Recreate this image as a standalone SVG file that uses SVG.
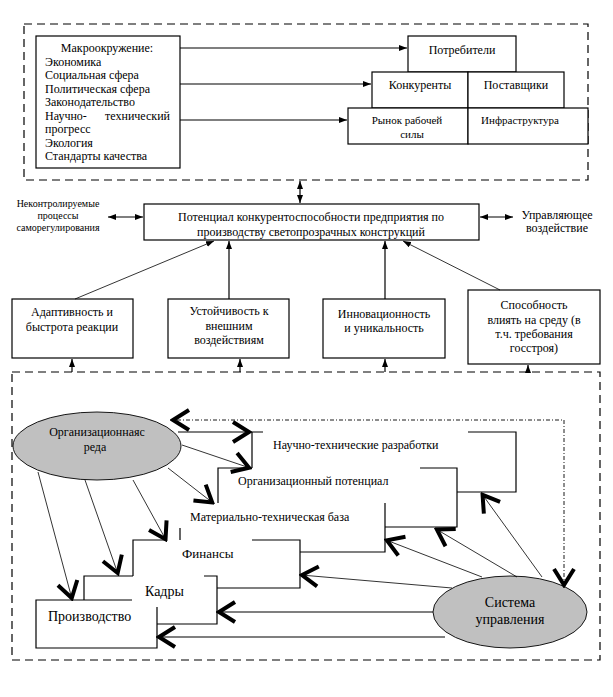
<svg xmlns="http://www.w3.org/2000/svg" width="613" height="697" viewBox="0 0 613 697" font-family="Liberation Serif, serif">
<defs>
<style>
.t{font-family:"Liberation Serif","Times New Roman",serif;font-size:12px;fill:#000}
.s{font-size:11px}
.xs{font-size:10px}
.m{text-anchor:middle}
.e{text-anchor:end}
.b{fill:#fff;stroke:#000;stroke-width:1.2}
.ln{fill:none;stroke:#000;stroke-width:1.2}
.th{fill:none;stroke:#000;stroke-width:0.8}
.dash{fill:none;stroke:#000;stroke-width:1.2;stroke-dasharray:8,5}
.dd{fill:none;stroke:#000;stroke-width:0.9;stroke-dasharray:4,2,1,2}
.el{fill:#c0c0c0;stroke:#000;stroke-width:0.9}
</style>
<marker id="ah" viewBox="0 0 8 6" refX="8" refY="3" markerWidth="8" markerHeight="6" markerUnits="userSpaceOnUse" orient="auto-start-reverse"><path d="M0,0 L8,3 L0,6 z" fill="#000"/></marker>
<marker id="ch" viewBox="-22 -13 24 26" refX="0" refY="0" markerWidth="24" markerHeight="26" markerUnits="userSpaceOnUse" orient="auto-start-reverse"><path d="M-17,-10 L-1,0 L-17,10" fill="none" stroke="#000" stroke-width="4"/></marker>
</defs>
<rect width="613" height="697" fill="#fff"/>

<g id="frame_top"><rect class="dash" x="24" y="24" width="564" height="156"/></g>
<g id="frame_bottom"><rect class="dash" x="12" y="372" width="588" height="288"/></g>

<g id="macro">
<rect class="b" x="36" y="36" width="144" height="132"/>
<text class="t m" x="107" y="52">Макроокружение:</text>
<text class="t" x="45" y="65.5">Экономика</text>
<text class="t" x="45" y="79">Социальная сфера</text>
<text class="t" x="45" y="92.5">Политическая сфера</text>
<text class="t" x="45" y="106">Законодательство</text>
<text class="t" x="45" y="119.5">Научно-</text>
<text class="t e" x="170" y="119.5">технический</text>
<text class="t" x="45" y="133">прогресс</text>
<text class="t" x="45" y="146.5">Экология</text>
<text class="t" x="45" y="160">Стандарты качества</text>
</g>

<g id="consumers"><rect class="b" x="408" y="36" width="108" height="36"/><text class="t m" x="462" y="54">Потребители</text></g>
<g id="competitors"><rect class="b" x="372" y="72" width="96" height="36"/><text class="t m" x="420" y="89">Конкуренты</text></g>
<g id="suppliers"><rect class="b" x="468" y="72" width="96" height="36"/><text class="t m" x="516" y="89">Поставщики</text></g>
<g id="labor"><rect class="b" x="348" y="108" width="120" height="36"/><text class="t s m" x="407" y="124">Рынок рабочей</text><text class="t s m" x="412" y="138">силы</text></g>
<g id="infra"><rect class="b" x="468" y="108" width="120" height="36"/><text class="t s m" x="520" y="124">Инфраструктура</text></g>

<g id="potential"><rect class="b" x="144" y="204" width="335" height="36"/>
<text class="t m" x="311" y="221">Потенциал конкурентоспособности предприятия по</text>
<text class="t m" x="311" y="236">производству светопрозрачных конструкций</text></g>

<g id="uncontrolled"><text class="t xs m" x="58" y="207">Неконтролируемые</text><text class="t xs m" x="58" y="219">процессы</text><text class="t xs m" x="58" y="231">саморегулирования</text></g>
<g id="control"><text class="t m" x="557" y="219">Управляющее</text><text class="t m" x="557" y="232">воздействие</text></g>

<g id="adapt"><rect class="b" x="12" y="299" width="121" height="59"/><text class="t m" x="72" y="316">Адаптивность и</text><text class="t m" x="72" y="331">быстрота реакции</text></g>
<g id="stab"><rect class="b" x="168" y="299" width="121" height="59"/><text class="t m" x="229" y="315">Устойчивость к</text><text class="t m" x="229" y="330">внешним</text><text class="t m" x="229" y="344">воздействиям</text></g>
<g id="innov"><rect class="b" x="323" y="299" width="122" height="59"/><text class="t m" x="384" y="318">Инновационность</text><text class="t m" x="384" y="332">и уникальность</text></g>
<g id="influence"><rect class="b" x="468" y="290" width="132" height="74"/><text class="t m" x="534" y="309">Способность</text><text class="t m" x="534" y="324">влиять на среду (в</text><text class="t m" x="534" y="338">т.ч. требования</text><text class="t m" x="534" y="352">госстроя)</text></g>

<g id="ntr"><path class="ln" d="M252,468 V432 H263 M468,432 H516 V492 H457"/><text class="t" x="273" y="449">Научно-технические разработки</text></g>
<g id="orgpot"><path class="ln" d="M218,503 V468 H252 M420,468 H457 V527 H385"/><text class="t" x="238" y="485">Организационный потенциал</text></g>
<g id="mtb"><path class="ln" d="M180,528 V540 M385,503 V552 H300"/><text class="t" x="190" y="521">Материально-техническая база</text></g>
<g id="fin"><path class="ln" d="M133,576 V540 H167 M252,540 H300 V588 H217"/><text class="t" style="font-size:13px" x="182" y="558">Финансы</text></g>
<g id="kadry"><path class="ln" d="M84,600 V576 H133 M204,576 H217 V624 H157"/><text class="t" style="font-size:14px" x="145" y="596">Кадры</text></g>
<g id="prod"><path class="ln" d="M132,600 H36 V648 H157 V607"/><text class="t" style="font-size:14px" x="48" y="621">Производство</text></g>

<g id="orgenv"><ellipse class="el" cx="97" cy="446" rx="84" ry="34"/><text class="t m" x="97" y="436">Организационнаяс</text><text class="t m" x="95" y="451">реда</text></g>
<g id="mgmt"><ellipse class="el" cx="510" cy="612" rx="77" ry="36"/><text class="t m" style="font-size:14px" x="510" y="607">Система</text><text class="t m" style="font-size:14px" x="510" y="624">управления</text></g>

<g id="connectors">
<line class="ln" x1="180" y1="48" x2="407" y2="48" marker-end="url(#ah)"/>
<line class="ln" x1="180" y1="84" x2="371" y2="84" marker-end="url(#ah)"/>
<line class="ln" x1="180" y1="120" x2="347" y2="120" marker-end="url(#ah)"/>
<line class="ln" x1="300" y1="181" x2="300" y2="203" marker-start="url(#ah)" marker-end="url(#ah)"/>
<line class="ln" x1="108" y1="217" x2="143" y2="217" marker-start="url(#ah)" marker-end="url(#ah)"/>
<line class="ln" x1="480" y1="217" x2="513" y2="217" marker-start="url(#ah)" marker-end="url(#ah)"/>
<line class="th" x1="75" y1="299" x2="214" y2="241" marker-end="url(#ah)"/>
<line class="ln" x1="229" y1="299" x2="229" y2="241" marker-end="url(#ah)"/>
<line class="ln" x1="385" y1="299" x2="385" y2="241" marker-end="url(#ah)"/>
<line class="th" x1="500" y1="290" x2="403" y2="241" marker-end="url(#ah)"/>
<line class="ln" x1="72" y1="372" x2="72" y2="359" marker-end="url(#ah)"/>
<line class="ln" x1="240" y1="372" x2="240" y2="359" marker-end="url(#ah)"/>
<line class="ln" x1="385" y1="372" x2="385" y2="359" marker-end="url(#ah)"/>
<line class="ln" x1="528" y1="372" x2="528" y2="365" marker-end="url(#ah)"/>

<line class="ln" x1="178" y1="432" x2="250" y2="432" marker-end="url(#ch)"/>
<line class="th" x1="182" y1="445" x2="250" y2="468" marker-end="url(#ch)"/>
<line class="th" x1="168" y1="468" x2="213" y2="503" marker-end="url(#ch)"/>
<line class="th" x1="133" y1="480" x2="166" y2="540" marker-end="url(#ch)"/>
<line class="th" x1="85" y1="480" x2="118" y2="574" marker-end="url(#ch)"/>
<line class="th" x1="38" y1="472" x2="72" y2="599" marker-end="url(#ch)"/>

<line class="ln" x1="445" y1="637" x2="158" y2="637" marker-end="url(#ch)"/>
<line class="ln" x1="433" y1="612" x2="218" y2="612" marker-end="url(#ch)"/>
<line class="th" x1="452" y1="588" x2="301" y2="575" marker-end="url(#ch)"/>
<line class="th" x1="482" y1="577" x2="386" y2="540" marker-end="url(#ch)"/>
<line class="th" x1="517" y1="577" x2="436" y2="529" marker-end="url(#ch)"/>
<line class="th" x1="542" y1="577" x2="482" y2="494" marker-end="url(#ch)"/>
<path class="dd" d="M564,586 V420 H172" marker-start="url(#ch)" marker-end="url(#ch)"/>
</g>
</svg>
